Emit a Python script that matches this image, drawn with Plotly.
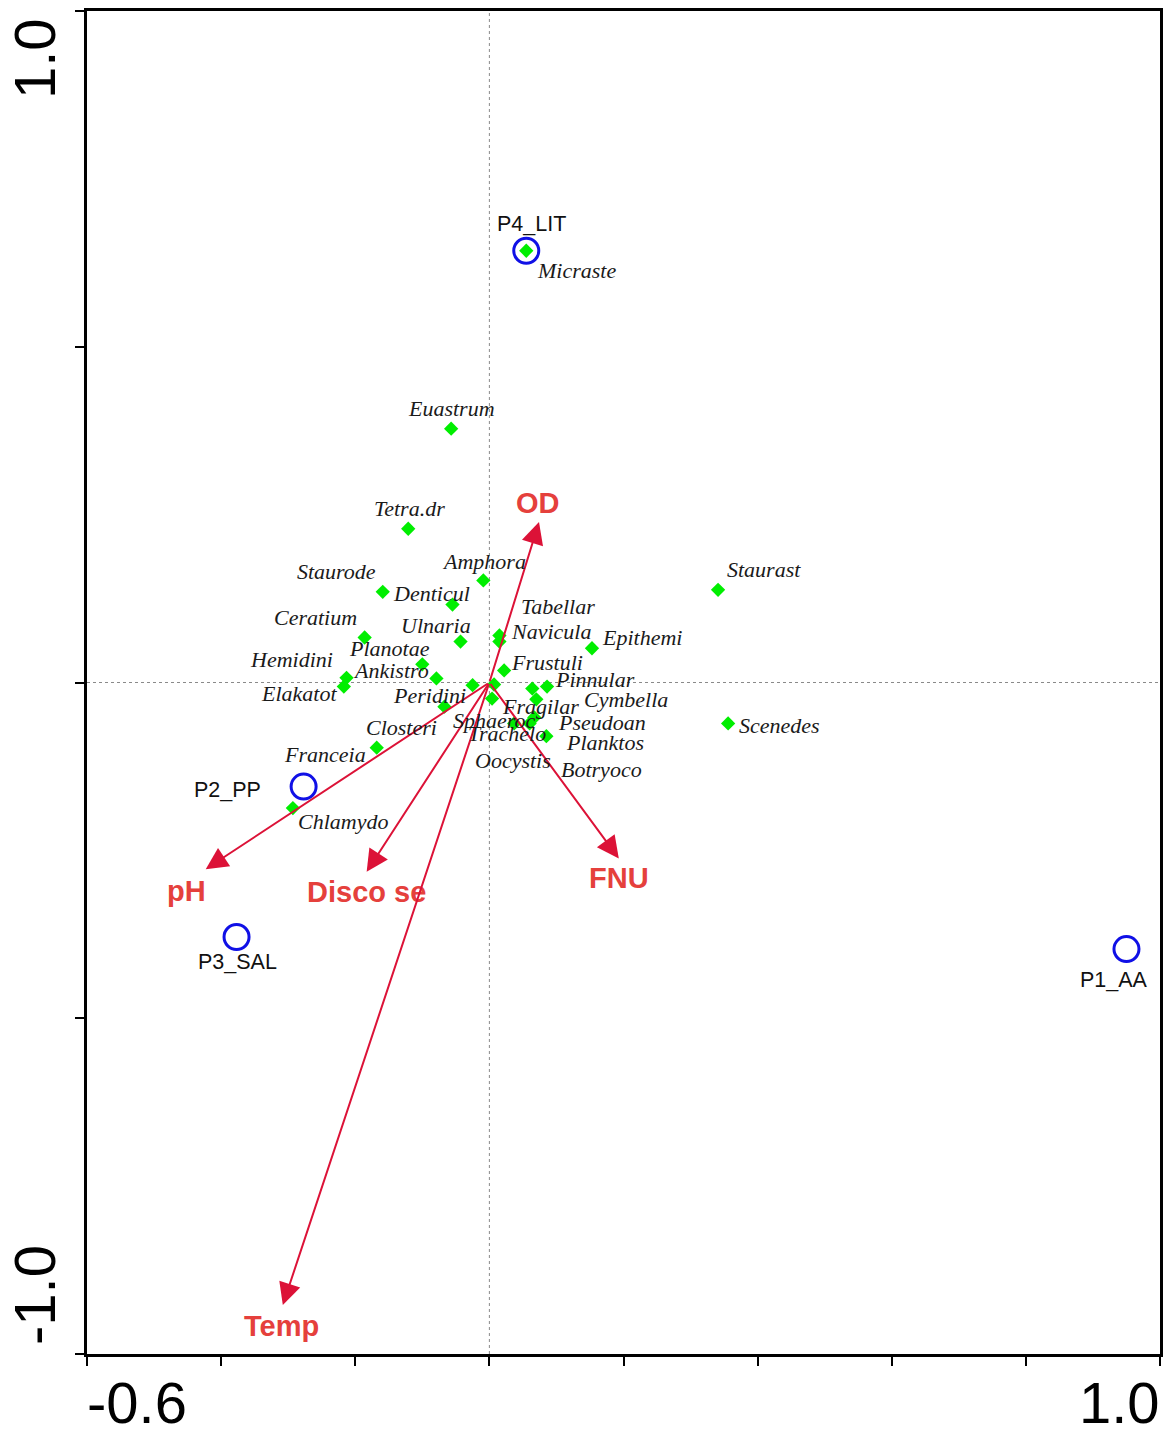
import plotly.graph_objects as go

# ---------------- data ----------------
species = ["Micraste", "Euastrum", "Tetra.dr", "Amphora", "Staurode", "Denticul",
           "Staurast", "Ceratium", "Ulnaria", "Tabellar", "Navicula", "Epithemi",
           "Planotae", "Hemidini", "Ankistro", "Frustuli", "Pinnular", "Elakatot",
           "Peridini", "Cymbella", "Fragilar", "Sphaeroc", "Oocystis", "Closteri",
           "Pseudoan", "Planktos", "Trachelo", "Franceia", "Scenedes", "Chlamydo",
           "Botryoco"]
species_x = [0.055, -0.057, -0.121, -0.009, -0.159, -0.055,
             0.341, -0.186, -0.043, 0.015, 0.015, 0.153,
             -0.100, -0.213, -0.079, 0.022, 0.086, -0.217,
             -0.025, 0.064, 0.070, 0.004, 0.007, -0.067,
             0.067, 0.085, 0.037, -0.168, 0.356, -0.293,
             0.060]
species_y = [0.643, 0.378, 0.229, 0.152, 0.135, 0.116,
             0.138, 0.067, 0.061, 0.070, 0.061, 0.051,
             0.027, 0.007, 0.006, 0.018, -0.006, -0.006,
             -0.004, -0.009, -0.025, -0.024, -0.003, -0.036,
             -0.052, -0.080, -0.061, -0.097, -0.061, -0.187,
             -0.061]

sites = ["P1_AA", "P2_PP", "P3_SAL", "P4_LIT"]
site_x = [0.950, -0.277, -0.377, 0.055]
site_y = [-0.397, -0.155, -0.379, 0.643]

env_vars = ["OD", "pH", "Disco se", "FNU", "Temp"]
env_x = [0.074, -0.423, -0.183, 0.193, -0.308]
env_y = [0.239, -0.278, -0.282, -0.262, -0.927]

x_tick_values = [-0.6, -0.4, -0.2, 0.0, 0.2, 0.4, 0.6, 0.8, 1.0]
y_tick_values = [-1.0, -0.5, 0.0, 0.5, 1.0]
x_end_labels = ["-0.6", "1.0"]
y_end_labels = ["1.0", "-1.0"]

# ---------------- label placement (pixel offsets, style only) ----------------
species_label_offset = {
    "Micraste": (50, -20), "Euastrum": (0, 20), "Tetra.dr": (1, 20),
    "Amphora": (1, 19), "Staurode": (-46, 20), "Denticul": (-21, 11),
    "Staurast": (46, 20), "Ceratium": (-49, 20), "Ulnaria": (-25, 16),
    "Tabellar": (59, 29), "Navicula": (52, 10), "Epithemi": (50, 11),
    "Planotae": (-33, 16), "Hemidini": (-55, 18), "Ankistro": (-45, 8),
    "Frustuli": (43, 8), "Pinnular": (48, 7), "Elakatot": (-45, -7),
    "Peridini": (-43, -10), "Cymbella": (94, -11), "Fragilar": (4, -7),
    "Sphaeroc": (2, -22), "Oocystis": (19, -76), "Closteri": (-43, -21),
    "Pseudoan": (68, -5), "Planktos": (59, -6), "Trachelo": (-7, -10),
    "Franceia": (-52, -7), "Scenedes": (51, -2), "Chlamydo": (50, -13),
    "Botryoco": (72, -46),
}
site_label_offset = {"P1_AA": (-12, -31), "P2_PP": (-76, -3),
                     "P3_SAL": (1, -25), "P4_LIT": (5, 27)}
env_label_offset = {"OD": (-1, 19), "pH": (-19, -22), "Disco se": (0, -20),
                    "FNU": (0, -20), "Temp": (-1, -21)}

ARROW_COLOR = "#DC1237"
LABEL_RED = "#E5403C"
SERIF = "Liberation Serif, Times New Roman, serif"
SANS = "Liberation Sans, Arial, sans-serif"

fig = go.Figure()

# zero reference lines
fig.add_shape(type="line", x0=-0.6, x1=1.0, y0=0, y1=0, xref="x", yref="y",
              line=dict(color="#8a8a8a", width=1, dash="dot"), layer="below")
fig.add_shape(type="line", x0=0, x1=0, y0=-1.0, y1=1.0, xref="x", yref="y",
              line=dict(color="#8a8a8a", width=1, dash="dot"), layer="below")

# sites
fig.add_trace(go.Scatter(
    x=site_x, y=site_y, mode="markers", name="Sites",
    marker=dict(symbol="circle-open", size=25, color="#1010E6",
                line=dict(width=3, color="#1010E6")),
    hoverinfo="text", text=sites))

# species
fig.add_trace(go.Scatter(
    x=species_x, y=species_y, mode="markers", name="Species",
    marker=dict(symbol="diamond", size=11, color="#00EE00",
                line=dict(width=0)),
    hoverinfo="text", text=species))

annotations = []

# environmental arrows
for name, ex, ey in zip(env_vars, env_x, env_y):
    annotations.append(dict(
        x=ex, y=ey, ax=0, ay=0, xref="x", yref="y", axref="x", ayref="y",
        text="", showarrow=True, arrowhead=2, arrowsize=2.2, arrowwidth=2,
        arrowcolor=ARROW_COLOR, standoff=0, startstandoff=0))
    dx, dy = env_label_offset[name]
    annotations.append(dict(
        x=ex, y=ey, xref="x", yref="y", text=f"<b>{name}</b>", showarrow=False,
        xshift=dx, yshift=dy, xanchor="center", yanchor="middle",
        font=dict(family=SANS, size=29, color=LABEL_RED)))

# species labels
for name, sx, sy in zip(species, species_x, species_y):
    dx, dy = species_label_offset[name]
    annotations.append(dict(
        x=sx, y=sy, xref="x", yref="y", text=f"<i>{name}</i>", showarrow=False,
        xshift=dx, yshift=dy, xanchor="center", yanchor="middle",
        font=dict(family=SERIF, size=22, color="#1a1a1a")))

# site labels
for name, sx, sy in zip(sites, site_x, site_y):
    dx, dy = site_label_offset[name]
    annotations.append(dict(
        x=sx, y=sy, xref="x", yref="y", text=name, showarrow=False,
        xshift=dx, yshift=dy, xanchor="center", yanchor="middle",
        font=dict(family=SANS, size=21.5, color="#111111")))

# axis end labels
annotations.append(dict(x=x_tick_values[0], y=y_tick_values[0], xref="x", yref="y",
                        text=x_end_labels[0], showarrow=False, xanchor="left",
                        yanchor="middle", yshift=-48, xshift=-2,
                        font=dict(family=SANS, size=58, color="black")))
annotations.append(dict(x=x_tick_values[-1], y=y_tick_values[0], xref="x", yref="y",
                        text=x_end_labels[1], showarrow=False, xanchor="right",
                        yanchor="middle", yshift=-48, xshift=2,
                        font=dict(family=SANS, size=58, color="black")))
annotations.append(dict(x=x_tick_values[0], y=y_tick_values[-1], xref="x", yref="y",
                        text=y_end_labels[0], showarrow=False, textangle=-90,
                        xanchor="center", yanchor="middle", xshift=-53, yshift=-48,
                        font=dict(family=SANS, size=58, color="black")))
annotations.append(dict(x=x_tick_values[0], y=y_tick_values[0], xref="x", yref="y",
                        text=y_end_labels[1], showarrow=False, textangle=-90,
                        xanchor="center", yanchor="middle", xshift=-53, yshift=59,
                        font=dict(family=SANS, size=58, color="black")))

fig.update_layout(
    width=1171, height=1430,
    margin=dict(l=87, r=9, t=8, b=76),
    paper_bgcolor="white", plot_bgcolor="white",
    showlegend=False,
    annotations=annotations,
    xaxis=dict(range=[-0.6, 1.0], showgrid=False, zeroline=False,
               showline=True, linecolor="black", linewidth=3, mirror=True,
               ticks="outside", tickvals=x_tick_values, ticklen=9,
               tickwidth=2, tickcolor="black", showticklabels=False),
    yaxis=dict(range=[-1.0, 1.0], showgrid=False, zeroline=False,
               showline=True, linecolor="black", linewidth=3, mirror=True,
               ticks="outside", tickvals=y_tick_values, ticklen=9,
               tickwidth=2, tickcolor="black", showticklabels=False),
)

fig.write_html("out.html",
               config={"displayModeBar": False},
               post_script="document.body.style.margin='0';"
                           "document.body.style.overflow='hidden';")
